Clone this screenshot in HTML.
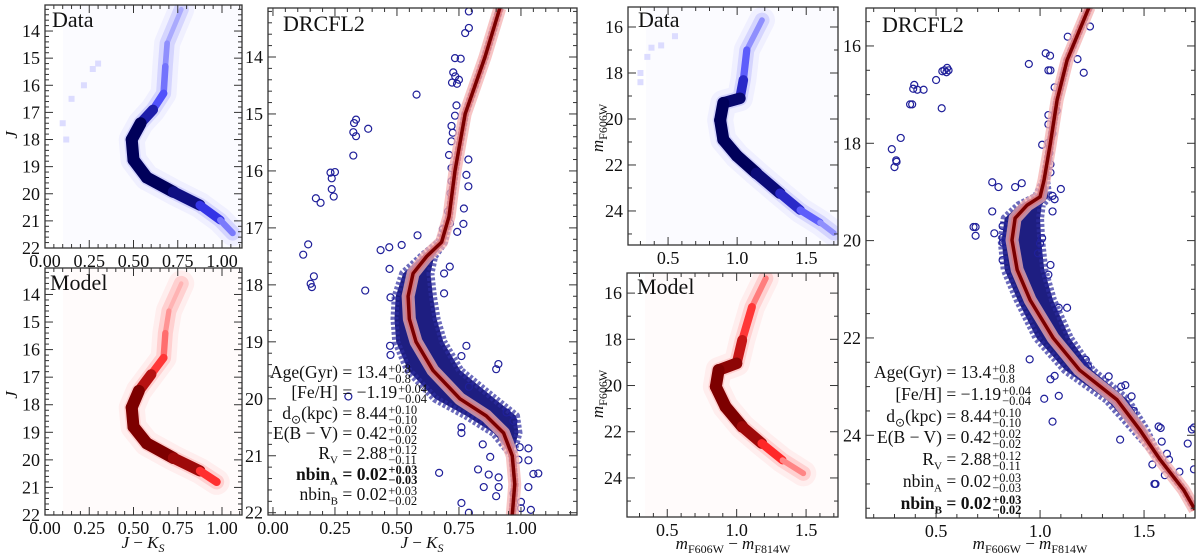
<!DOCTYPE html>
<html><head><meta charset="utf-8">
<style>
body{margin:0;background:#fff;width:1200px;height:558px;overflow:hidden;font-family:"Liberation Serif",serif;}
#wrap{position:relative;width:1200px;height:558px;}
svg{position:absolute;left:0;top:0;}
svg text{font-family:"Liberation Serif",serif;}
.row{position:absolute;height:20px;font-size:17.5px;line-height:20px;white-space:nowrap;color:#111;font-family:"Liberation Serif",serif;}
.row .lab{display:inline-block;text-align:right;}
.row .st{display:inline-block;vertical-align:middle;font-size:12.5px;line-height:10px;margin-left:1px;}
.b{font-weight:bold;}
</style></head>
<body>
<div id="wrap">
<svg id="fig" width="1200" height="558" viewBox="0 0 1200 558" xmlns="http://www.w3.org/2000/svg"></svg>
<div id="statsL"></div>
<div id="statsR"></div>
</div>
<script>
// ---------- data ----------
const isoLColor=[0.915,0.855,0.775,0.734,0.71,0.68,0.62,0.565,0.545,0.55,0.577,0.645,0.754,0.86,0.93,0.965,0.975,0.965];
const isoLMag=[13.14,14,15,16,16.8,17.25,17.5,17.8,18.2,18.6,19,19.5,20,20.3,20.6,21,21.5,22.04];
const bandLLo=[0,0,0,0,0,0.01,0.02,0.04,0.05,0.06,0.08,0.1,0.1,0.08,0.04,0,0,0];
const bandLHi=[0,0,0,0,0,0.01,0.03,0.07,0.1,0.11,0.11,0.11,0.14,0.12,0.06,0,0,0];
const starsLColor=[0.122,0.142,0.165,0.152,0.157,0.173,0.192,0.232,0.25,0.237,0.237,0.245,0.324,0.327,0.335,0.324,0.335,0.384,0.579,0.372,0.434,0.469,0.519,0.583,0.734,0.757,0.727,0.735,0.722,0.742,0.75,0.775,0.79,0.79,0.74,0.734,0.72,0.725,0.72,0.71,0.72,0.788,0.78,0.788,0.72,0.716,0.706,0.77,0.768,0.685,0.714,0.743,0.713,0.69,0.69,0.47,0.474,0.472,0.474,0.78,0.76,0.909,0.9,0.304,0.79,0.942,0.97,0.76,0.846,0.876,0.995,1.03,0.99,1.03,0.827,0.87,0.91,0.85,0.9,0.91,0.97,1.0,1.03,1.05,1.07,0.76,0.79,1.0,1.04,0.67,0.76];
const starsLMag=[17.47,17.29,17.85,17.98,18.04,16.48,16.56,16.03,16.02,16.13,16.32,16.45,15.73,15.16,15.1,15.32,15.39,15.26,14.66,18.1,17.39,17.34,17.3,17.13,14.02,14.03,14.27,14.34,14.45,14.47,14.4,13.58,13.49,13.2,14.85,15.03,15.21,15.33,15.48,15.72,15.95,15.8,16.07,16.27,16.18,16.39,16.71,16.66,16.93,17.02,16.92,17.07,17.68,17.8,18.15,17.72,18.22,19.07,19.23,19.07,19.25,19.39,19.48,19.96,19.79,20.24,20.39,20.6,20.8,21.02,20.85,20.87,21.07,21.08,21.24,21.33,21.38,21.55,21.71,21.55,21.66,21.81,21.55,21.32,21.31,21.83,22.0,21.92,21.95,21.3,20.5];
const isoRColor=[1.236,1.13,1.082,1.048,1.019,1.0,0.938,0.88,0.865,0.89,0.952,1.063,1.19,1.37,1.48,1.577,1.69,1.745];
const isoRMag=[15.2,16.29,17.11,18.04,18.76,19.1,19.27,19.54,19.99,20.6,21.22,22.0,22.66,23.27,23.89,24.5,25.12,25.53];
const bandRLo=[0,0,0,0,0,0.02,0.04,0.05,0.05,0.06,0.06,0.08,0.07,0.05,0.03,0,0,0];
const bandRHi=[0,0,0,0,0.01,0.04,0.07,0.12,0.14,0.13,0.11,0.08,0.06,0.05,0.03,0,0,0];
const starsRColor=[0.287,0.308,0.31,0.30,0.33,0.375,0.385,0.39,0.395,0.41,0.44,0.5,0.527,0.53,0.54,0.553,0.56,0.55,0.946,1.027,1.048,1.04,1.05,1.133,1.24,1.18,1.21,1.07,1.08,1.04,1.01,1.04,1.06,1.04,1.045,1.05,1.05,0.912,0.88,0.8,0.77,1.1,1.06,1.07,1.06,0.77,0.68,0.69,0.69,0.78,0.82,0.82,0.82,0.82,1.0,1.01,0.99,1.05,1.04,1.13,1.09,0.95,1.02,1.06,1.09,1.22,1.23,1.33,1.39,1.41,1.44,1.385,1.45,1.585,1.57,1.58,1.61,1.62,1.73,1.74,1.71,1.74,1.55,1.555,1.54,1.6,1.67,1.05,1.07];
const starsRMag=[18.12,18.35,18.38,18.49,17.89,17.2,17.2,16.88,16.8,16.9,16.9,16.7,17.28,16.52,16.5,16.45,16.5,16.54,16.37,16.15,16.2,16.5,16.5,15.81,15.6,16.27,16.55,16.85,17.33,17.61,18.03,17.99,17.8,17.42,18.2,18.43,18.6,18.82,18.9,18.9,18.8,18.94,19.08,19.15,19.4,19.4,19.72,19.72,19.9,19.85,19.7,19.94,20.04,20.4,20.06,19.95,20.26,20.5,20.7,21.38,21.38,22.44,23.25,23.72,23.19,22.45,22.58,22.79,23.0,22.97,23.2,24.09,23.5,24.13,23.82,23.85,24.38,24.5,23.88,23.84,24.17,24.7,25.0,25.0,24.6,24.82,24.75,22.85,22.78];
const hessLDColor=[0.77,0.69,0.68,0.67,0.61,0.54,0.49,0.5,0.575,0.725,0.875,0.99,1.06];
const hessLDMag=[13.2,14.45,15.3,16.3,16.9,17.4,18.0,18.75,19.4,19.93,20.42,20.97,21.45];
const hessLDDens=[0.15,0.25,0.35,0.45,0.6,1,1,1,1,1,0.8,0.5,0.25];
const hbLDColor=[0.3,0.22,0.15,0.1,0.12,0.27];
const hbLDMag=[15.2,16.0,16.5,17.4,18.0,15.4];
const hessLMColor=[0.77,0.7,0.68,0.67,0.6,0.53,0.49,0.5,0.575,0.725,0.875,0.97];
const hessLMMag=[13.6,14.6,15.4,16.3,16.9,17.5,18.1,18.8,19.4,19.93,20.4,20.8];
const hessLMDens=[0.1,0.2,0.3,0.45,0.65,1,1,1,1,1,0.8,0.35];
const hessRDColor=[1.18,1.07,1.045,1.02,0.9,0.877,0.9,0.998,1.14,1.31,1.456,1.6,1.7];
const hessRDMag=[15.7,17.0,18.3,19.1,19.3,20.05,20.9,21.6,22.36,23.23,23.96,24.5,24.96];
const hessRDDens=[0.2,0.4,0.55,0.9,1,1,1,1,1,0.85,0.6,0.35,0.25];
const hbRDColor=[0.55,0.45,0.35,0.3,0.3,0.38];
const hbRDMag=[16.4,16.8,17.3,18.0,18.4,16.9];
const hessRMColor=[1.21,1.11,1.04,1.0,0.87,0.85,0.92,1.04,1.18,1.33,1.48];
const hessRMMag=[15.36,16.6,18.03,19.04,19.33,20.05,20.92,21.78,22.5,23.23,23.8];
const hessRMDens=[0.2,0.45,0.65,0.9,1,1,1,1,0.8,0.4,0.2];
const jTicks=[14,15,16,17,18,19,20,21,22];
const jkTicks=[0.00,0.25,0.50,0.75,1.00];
const mTicks=[16,18,20,22,24];
const cTicks=[0.5,1.0,1.5];

// ---------- helpers ----------
const NS="http://www.w3.org/2000/svg";
const svg=document.getElementById('fig');
function el(tag,attrs,parent){const e=document.createElementNS(NS,tag);for(const k in attrs)e.setAttribute(k,attrs[k]);(parent||svg).appendChild(e);return e;}
function panel(x0,x1,y0,y1,xmin,xmax,ymin,ymax){return {x0,x1,y0,y1,xmin,xmax,ymin,ymax,
  sx:c=>x0+(c-xmin)/(xmax-xmin)*(x1-x0), sy:m=>y0+(m-ymin)/(ymax-ymin)*(y1-y0)};}
const LD=panel(45,242,5,248,0,1.113,13.04,22.0);
const LM=panel(45,242,268,515,0,1.113,13.04,22.0);
const LB=panel(268,577,8,515,-0.02,1.226,13.14,22.04);
const RD=panel(628,838,7,245,0.21,1.73,15.13,25.48);
const RM=panel(627,838,273,517,0.21,1.73,15.13,25.69);
const RB=panel(866,1195,8,518,0.163,1.745,15.22,25.70);

function clip(p,id){const d=el('clipPath',{id:id});el('rect',{x:p.x0,y:p.y0,width:p.x1-p.x0,height:p.y1-p.y0},d);return 'url(#'+id+')';}
function lerp(a,b,t){return a.map((v,i)=>Math.round(v+(b[i]-v)*t));}
function densCol(d,light,mid,dark){return d<0.6?lerp(light,mid,d/0.6):lerp(mid,dark,(d-0.6)/0.4);}

function hess(p,cs,ms,ds,light,mid,dark,bg,name,cid){
  const g=el('g',{'clip-path':clip(p,cid)});
  
  
  const r=el('rect',{x:p.x0+18,y:p.y0,width:p.x1-p.x0-18,height:p.y1-p.y0,fill:bg},g);
  
  
  let pts=cs.map((c,i)=>p.sx(c)+','+p.sy(ms[i])).join(' ');
  const halo=el('polyline',{points:pts,fill:'none',stroke:'rgb('+mid.join(',')+')','stroke-opacity':0.06,'stroke-width':26,'stroke-linejoin':'round','stroke-linecap':'round'},g);
  
  
  const halo2=el('polyline',{points:pts,fill:'none',stroke:'rgb('+mid.join(',')+')','stroke-opacity':0.15,'stroke-width':15,'stroke-linejoin':'round','stroke-linecap':'round'},g);
  
  
  for(let i=0;i<cs.length-1;i++){
    const d=(ds[i]+ds[i+1])/2;const col=densCol(d,light,mid,dark);
    const s=el('line',{x1:p.sx(cs[i]),y1:p.sy(ms[i]),x2:p.sx(cs[i+1]),y2:p.sy(ms[i+1]),stroke:'rgb('+col.join(',')+')','stroke-width':3+9*d,'stroke-linecap':'round'},g);
    
    
  }
  return g;
}
function hbCells(p,cs,ms,col){
  for(let i=0;i<cs.length;i++){
    const r=el('rect',{x:p.sx(cs[i])-3,y:p.sy(ms[i])-3,width:6,height:6,fill:col});
    
    
  }
}
function fitPanel(p,ic,im,lo,hi,sc,sm,name,cid){
  const g=el('g',{'clip-path':clip(p,cid)});
  
  
  let left=ic.map((c,i)=>p.sx(c-lo[i])+','+p.sy(im[i]));
  let right=ic.map((c,i)=>p.sx(c+hi[i])+','+p.sy(im[i])).reverse();
  const band=el('polygon',{points:left.concat(right).join(' '),fill:'#12127a','fill-opacity':0.95,stroke:'#2c2ca0','stroke-width':8,'stroke-linejoin':'round','stroke-opacity':0.7,'stroke-dasharray':'3 2'},g);
  
  
  for(let i=0;i<sc.length;i++){
    const c=el('circle',{cx:p.sx(sc[i]),cy:p.sy(sm[i]),r:3.5,fill:'none',stroke:'#20209a','stroke-width':1.2},g);
    
    
  }
  const pts=ic.map((c,i)=>p.sx(c)+','+p.sy(im[i])).join(' ');
  const glow=el('polyline',{points:pts,fill:'none',stroke:'#f4b0b0','stroke-opacity':0.75,'stroke-width':13,'stroke-linejoin':'round'},g);
  
  
  const glow2=el('polyline',{points:pts,fill:'none',stroke:'#e07070','stroke-opacity':0.7,'stroke-width':7,'stroke-linejoin':'round'},g);
  
  
  const line=el('polyline',{points:pts,fill:'none',stroke:'#7a0000','stroke-width':3.5,'stroke-linejoin':'round'},g);
  
  
}
function axes(p,xt,xfmt,xminor,yt,yminor,name,showX){
  const g=el('g',{});
  
  
  const f=el('rect',{x:p.x0,y:p.y0,width:p.x1-p.x0,height:p.y1-p.y0,fill:'none',stroke:'#333','stroke-width':1.3},g);
  
  
  const lo=Math.min(p.xmin,p.xmax),hi=Math.max(p.xmin,p.xmax);
  for(let v=Math.ceil(lo/xminor-1e-6)*xminor;v<=hi+1e-9;v+=xminor){
    const x=p.sx(v);const major=xt.some(t=>Math.abs(t-v)<1e-6);const L=major?8:4;
    el('line',{x1:x,y1:p.y1,x2:x,y2:p.y1-L,stroke:'#333','stroke-width':1},g);
    el('line',{x1:x,y1:p.y0,x2:x,y2:p.y0+L,stroke:'#333','stroke-width':1},g);
  }
  for(let v=Math.ceil(p.ymin/yminor-1e-6)*yminor;v<=p.ymax+1e-9;v+=yminor){
    const y=p.sy(v);const major=yt.some(t=>Math.abs(t-v)<1e-6);const L=major?8:4;
    el('line',{x1:p.x0,y1:y,x2:p.x0+L,y2:y,stroke:'#333','stroke-width':1},g);
    el('line',{x1:p.x1,y1:y,x2:p.x1-L,y2:y,stroke:'#333','stroke-width':1},g);
  }
  if(showX){xt.forEach(t=>{const tx=el('text',{x:p.sx(t),y:p.y1+19,'font-size':18,'text-anchor':'middle',fill:'#111'},g);tx.textContent=xfmt(t);
    
    });}
  yt.forEach(t=>{const ty=el('text',{x:p.x0-5,y:p.sy(t)+6,'font-size':18,'text-anchor':'end',fill:'#111'},g);ty.textContent=t;
    
    });
}
function txt(x,y,s,size,attrs,name){const t=el('text',Object.assign({x:x,y:y,'font-size':size,fill:'#111'},attrs||{}));t.innerHTML=s;
  
  return t;}

// ---------- draw ----------
const blueLight=[225,225,255],blueMid=[60,60,250],blueDark=[0,0,90];
const redLight=[255,225,225],redMid=[255,40,40],redDark=[125,0,0];
hess(LD,hessLDColor,hessLDMag,hessLDDens,blueLight,blueMid,blueDark,'#fbfbff','hess-data-left','c1');
hbCells(LD,hbLDColor,hbLDMag,'#dcdcff');
hess(LM,hessLMColor,hessLMMag,hessLMDens,redLight,redMid,redDark,'#fffbfb','hess-model-left','c2');
hess(RD,hessRDColor,hessRDMag,hessRDDens,blueLight,blueMid,blueDark,'#fbfbff','hess-data-right','c3');
hbCells(RD,hbRDColor,hbRDMag,'#dcdcff');
hess(RM,hessRMColor,hessRMMag,hessRMDens,redLight,redMid,redDark,'#fffbfb','hess-model-right','c4');
fitPanel(LB,isoLColor,isoLMag,bandLLo,bandLHi,starsLColor,starsLMag,'fit-panel-left','c5');
fitPanel(RB,isoRColor,isoRMag,bandRLo,bandRHi,starsRColor,starsRMag,'fit-panel-right','c6');

const f2=v=>v.toFixed(2), f1=v=>v.toFixed(1);
axes(LD,jkTicks,f2,0.05,jTicks,0.2,'left-data',true);
axes(LM,jkTicks,f2,0.05,jTicks,0.2,'left-model',true);
axes(LB,jkTicks,f2,0.05,jTicks,0.2,'left-fit',true);
axes(RD,cTicks,f1,0.1,mTicks,1,'right-data',true);
axes(RM,cTicks,f1,0.1,mTicks,1,'right-model',true);
axes(RB,cTicks,f1,0.1,mTicks,0.5,'right-fit',true);

txt(52,27,'Data',22,{},'panel-label-data-left');
txt(50,290,'Model',22,{},'panel-label-model-left');
txt(283,31,'DRCFL2',22,{},'panel-label-drcfl2-left');
txt(638,27,'Data',22,{},'panel-label-data-right');
txt(637,294,'Model',22,{},'panel-label-model-right');
txt(882,32,'DRCFL2',22,{},'panel-label-drcfl2-right');
txt(0,0,'J',17,{'font-style':'italic',transform:'translate(17,135) rotate(-90)','text-anchor':'middle'},'y-axis-title-left-data');
txt(0,0,'J',17,{'font-style':'italic',transform:'translate(17,395) rotate(-90)','text-anchor':'middle'},'y-axis-title-left-model');
txt(143,548,'<tspan font-style="italic">J</tspan> − <tspan font-style="italic">K</tspan><tspan font-size="12" dy="4" font-style="italic">S</tspan>',17,{'text-anchor':'middle'},'x-axis-title-left-model');
txt(422,548,'<tspan font-style="italic">J</tspan> − <tspan font-style="italic">K</tspan><tspan font-size="12" dy="4" font-style="italic">S</tspan>',17,{'text-anchor':'middle'},'x-axis-title-left-fit');
txt(0,0,'<tspan font-style="italic">m</tspan><tspan font-size="12" dy="4">F606W</tspan>',17,{transform:'translate(603,128) rotate(-90)','text-anchor':'middle'},'y-axis-title-right-data');
txt(0,0,'<tspan font-style="italic">m</tspan><tspan font-size="12" dy="4">F606W</tspan>',17,{transform:'translate(603,394) rotate(-90)','text-anchor':'middle'},'y-axis-title-right-model');
const xr='<tspan font-style="italic">m</tspan><tspan font-size="12" dy="4">F606W</tspan><tspan dy="-4"> − </tspan><tspan font-style="italic">m</tspan><tspan font-size="12" dy="4">F814W</tspan>';
txt(733,549,xr,17,{'text-anchor':'middle'},'x-axis-title-right-model');
txt(1030,549,xr,17,{'text-anchor':'middle'},'x-axis-title-right-fit');

const statLabels=['Age(Gyr)','[Fe/H]','d<sub style="font-size:12px">⊙</sub>(kpc)','E(B − V)','R<sub style="font-size:11px">V</sub>','nbin<sub style="font-size:11px">A</sub>','nbin<sub style="font-size:11px">B</sub>'];
const statVals=['13.4','−1.19','8.44','0.42','2.88','0.02','0.02'];
const statUpL=['+0.8','+0.04','+0.10','+0.02','+0.12','+0.03','+0.03'];
const statLoL=['−0.8','−0.04','−0.10','−0.02','−0.11','−0.03','−0.02'];
function stats(id,right,top,step,boldIdx){
  const c=document.getElementById(id);
  statLabels.forEach((l,i)=>{
    const r=document.createElement('div');r.className='row'+(i===boldIdx?' b':'');
    
    
    r.style.left=(right-120)+'px';r.style.top=(top+i*step-10)+'px';
    r.innerHTML='<span class="lab" style="width:120px">'+l+'</span> = '+statVals[i]+'<span class="st">'+statUpL[i]+'<br>'+statLoL[i]+'</span>';
    c.appendChild(r);
  });
}
stats('statsL',338,372,20.3,5);
stats('statsR',942,372,21.8,6);
</script>
</body></html>
